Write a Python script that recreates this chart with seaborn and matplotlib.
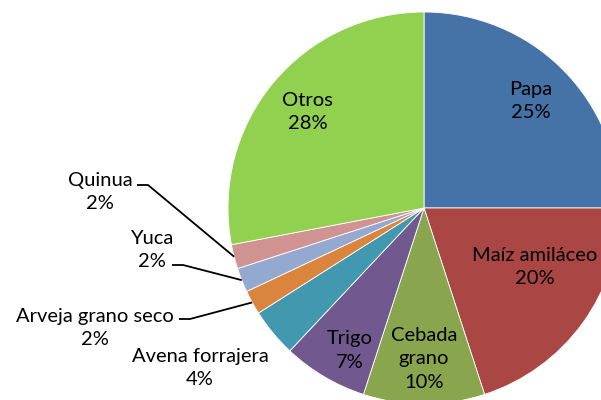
import numpy as np
import matplotlib
matplotlib.use('Agg')
import matplotlib.pyplot as plt
import seaborn as sns

# datos
cultivos = ['Papa', 'Maíz amiláceo', 'Cebada\ngrano', 'Trigo', 'Avena forrajera',
            'Arveja grano seco', 'Yuca', 'Quinua', 'Otros']
porcentajes = [25, 20, 10, 7, 4, 2, 2, 2, 28]
colores = ['#4572A7', '#AA4643', '#89A54E', '#71588F', '#4198AF',
           '#DB843D', '#93A9CF', '#D19392', '#92D050']

sns.set_theme(style='white')
plt.rcParams['font.family'] = ['Lato', 'DejaVu Sans']
plt.rcParams['text.color'] = 'black'

# disposicion en pixeles (figura 601x400)
W, H = 601, 400
cx, cy, R = 424, H - 208, 196

# etiquetas dentro: (radio relativo, desplazamiento angular)
dentro = {0: (0.77, 0), 1: (0.64, 8), 2: (0.77, 0), 3: (0.82, 3), 8: (0.77, 0)}
# etiquetas fuera: centro del texto en pixeles, inicio de la linea guia (o None)
fuera = {4: (200, 368, None), 5: (95, 328, (179, 319)),
         6: (152, 250, (172, 265)), 7: (100, 192, (137, 185))}

fig = plt.figure(figsize=(W / 100, H / 100), dpi=100)
ax = fig.add_axes([0, 0, 1, 1])
wedges, _ = ax.pie(porcentajes, colors=colores, startangle=90, counterclock=False,
                   center=(cx, cy), radius=R,
                   wedgeprops=dict(edgecolor='white', linewidth=0.6))
ax.set_xlim(0, W)
ax.set_ylim(0, H)
ax.set_aspect('equal')
ax.axis('off')

fs = 14.5
ls = 1.45
for i, w in enumerate(wedges):
    mid = np.deg2rad((w.theta1 + w.theta2) / 2)
    txt = f'{cultivos[i]}\n{porcentajes[i]}%'
    if i in dentro:
        rr, off = dentro[i]
        a = mid + np.deg2rad(off)
        ax.text(cx + rr * R * np.cos(a), cy + rr * R * np.sin(a), txt,
                ha='center', va='center', fontsize=fs, linespacing=ls)
    else:
        tx, ty, guia = fuera[i]
        ax.text(tx, H - ty, txt, ha='center', va='center', fontsize=fs, linespacing=ls)
        if guia:
            x0, y0 = guia[0], H - guia[1]
            ex, ey = cx + R * np.cos(mid), cy + R * np.sin(mid)
            ax.plot([x0, x0 + 11, ex], [y0, y0, ey], color='black', lw=1.3,
                    solid_capstyle='butt')

fig.savefig('out.png', dpi=100)
